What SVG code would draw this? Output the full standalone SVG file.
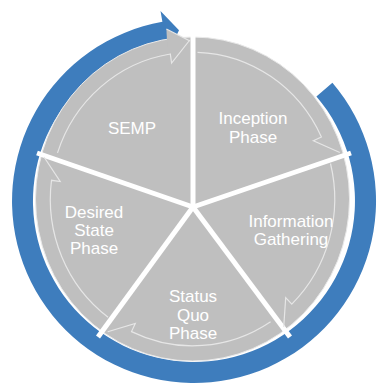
<svg xmlns="http://www.w3.org/2000/svg" width="378" height="385" viewBox="0 0 378 385">
<style>
.lbl{font-family:"Liberation Sans",Arial,sans-serif;font-size:17px;fill:#ffffff;text-anchor:middle}
.edge{fill:none;stroke:#e6e6e6;stroke-width:1.2;stroke-linejoin:miter}
.spoke{stroke:#ffffff;stroke-width:5;stroke-linecap:butt}
</style>
<rect width="378" height="385" fill="#ffffff"/>
<g id="connectors">
<path d="M332.4,82.8 A182,182 0 1 1 162.4,21.8 L160.5,10.9 L179,30.2 L168,53.3 L166,42.4 A161,161 0 1 0 316.4,96.4 Z" fill="#3e7dbd"/>
</g>
<g id="disc">
<ellipse cx="192.5" cy="199" rx="157" ry="162" fill="#bfbfbf" stroke="#e9e9e9" stroke-width="1"/>
</g>
<g id="semp-arrowhead">
<path d="M168,62 L166.4,29 L190,41 L190,62 Z" fill="#bfbfbf"/>
<path d="M166.4,29 L190,41" class="edge"/>
</g>
<g id="spokes">
<line class="spoke" x1="193" y1="209" x2="193" y2="30"/>
<line class="spoke" x1="193" y1="207" x2="351" y2="153"/>
<line class="spoke" x1="193" y1="207" x2="290" y2="337"/>
<line class="spoke" x1="193" y1="207" x2="98" y2="337"/>
<line class="spoke" x1="193" y1="207" x2="37" y2="153"/>
</g>
<g id="inception">
<path class="edge" d="M197.5,52.3 A142.2,146.8 0 0 1 321.4,137 L313.4,140.8 L339.8,152.5"/>
<text class="lbl" x="253" y="124">Inception</text>
<text class="lbl" x="253" y="143">Phase</text>
</g>
<g id="information-gathering">
<path class="edge" d="M330.5,163.5 A142.2,146.8 0 0 1 291.8,304.1 L285.7,297.6 L283.7,327.1"/>
<text class="lbl" x="291" y="227">Information</text>
<text class="lbl" x="291" y="245">Gathering</text>
</g>
<g id="status-quo">
<path class="edge" d="M270.6,321.7 A142.2,146.8 0 0 1 131.5,331.6 L135.3,323.4 L107.7,331.7"/>
<text class="lbl" x="193" y="302">Status</text>
<text class="lbl" x="193" y="321">Quo</text>
<text class="lbl" x="193" y="339">Phase</text>
</g>
<g id="desired-state">
<path class="edge" d="M108.1,317.2 A142.2,146.8 0 0 1 51.5,180.3 L60.2,181.5 L44,157"/>
<text class="lbl" x="94" y="218">Desired</text>
<text class="lbl" x="94" y="236">State</text>
<text class="lbl" x="94" y="254">Phase</text>
</g>
<g id="semp">
<path class="edge" d="M57.5,152.9 A142.2,146.8 0 0 1 170.3,54 L171.6,63 L189.8,40"/>
<text class="lbl" x="132" y="134">SEMP</text>
</g>
</svg>
